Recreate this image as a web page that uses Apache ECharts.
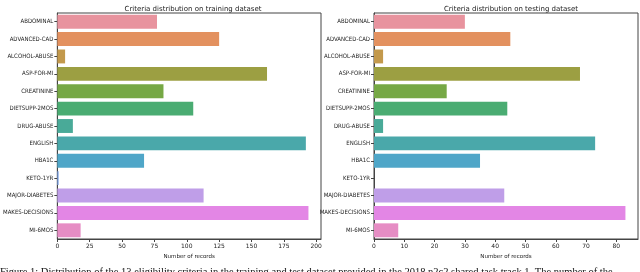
<!DOCTYPE html>
<html><head><meta charset="utf-8">
<script src="https://cdn.jsdelivr.net/npm/echarts@6/dist/echarts.min.js"></script>
<style>html,body{margin:0;padding:0;background:#fff}#c{width:640px;height:272px}</style>
</head><body><div id="c"></div>
<script>
const categories = ['ABDOMINAL','ADVANCED-CAD','ALCOHOL-ABUSE','ASP-FOR-MI','CREATININE','DIETSUPP-2MOS','DRUG-ABUSE','ENGLISH','HBA1C','KETO-1YR','MAJOR-DIABETES','MAKES-DECISIONS','MI-6MOS'];
const trainValues = [77,125,6,162,82,105,12,192,67,1,113,194,18];
const testValues = [30,45,3,68,24,44,3,73,35,0,43,83,8];
const trainTicks = [0,25,50,75,100,125,150,175,200];
const testTicks = [0,10,20,30,40,50,60,70,80];
const colors = ['#e8939e','#e3915f','#c3994c','#9c9f42','#76a845','#4aac72','#49aa98','#4aa8aa','#4fa6c8','#7ba2e6','#bf9ee8','#e386e5','#e68dc4'];
const titles = ['Criteria distribution on training dataset','Criteria distribution on testing dataset'];
const caption = 'Figure 1: Distribution of the 13 eligibility criteria in the training and test dataset provided in the 2018 n2c2 shared task track 1. The number of the';

const chart = echarts.init(document.getElementById('c'), null, {renderer:'canvas'});
const FONT = 'DejaVu Sans';
const grids = [
  {left:56, top:13, width:265, height:226},
  {left:374, top:13, width:264, height:226}
];
function xAxis(i, ticks, max){
  return {
    type:'value', gridIndex:i, min:0, max:max,
    name:'Number of records', nameLocation:'middle', nameGap:10,
    nameTextStyle:{fontFamily:FONT, fontSize:5.5, color:'#222'},
    axisLine:{show:true, lineStyle:{color:'#444', width:1}},
    axisTick:{show:true, length:3, lineStyle:{color:'#444'}, customValues:ticks},
    axisLabel:{fontFamily:FONT, fontSize:6, color:'#222', margin:4, customValues:ticks},
    splitLine:{show:false}
  };
}
function yAxis(i){
  return {
    type:'category', gridIndex:i, data:categories, inverse:true,
    axisLine:{show:true, lineStyle:{color:'#444', width:1}},
    axisTick:{show:true, length:3, alignWithLabel:true, lineStyle:{color:'#444'}},
    axisLabel:{fontFamily:'DejaVu Sans Condensed, DejaVu Sans', fontSize:6, color:'#222', margin:4},
    splitLine:{show:false}
  };
}
function series(i, vals){
  return {
    type:'bar', xAxisIndex:i, yAxisIndex:i, barCategoryGap:'20%',
    data: vals.map((v,k)=>({value:v, itemStyle:{color:colors[k]}})),
    silent:true
  };
}
chart.setOption({
  animation:false,
  backgroundColor:'#fff',
  title:[
    {text:titles[0], left:188, top:1, textAlign:'center', textStyle:{fontFamily:FONT, fontSize:7, fontWeight:'normal', color:'#222'}},
    {text:titles[1], left:506, top:1, textAlign:'center', textStyle:{fontFamily:FONT, fontSize:7, fontWeight:'normal', color:'#222'}}
  ],
  grid: grids.map(g=>Object.assign({show:true, borderColor:'#444', borderWidth:1, backgroundColor:'#fff', containLabel:false}, g)),
  xAxis:[xAxis(0, trainTicks, 203.7), xAxis(1, testTicks, 87.15)],
  yAxis:[yAxis(0), yAxis(1)],
  series:[series(0, trainValues), series(1, testValues)],
  graphic:[{type:'text', left:0, top:266.5, style:{text:caption, font:'10.5px "Liberation Serif", serif', fill:'#111'}}]
});
</script></body></html>
